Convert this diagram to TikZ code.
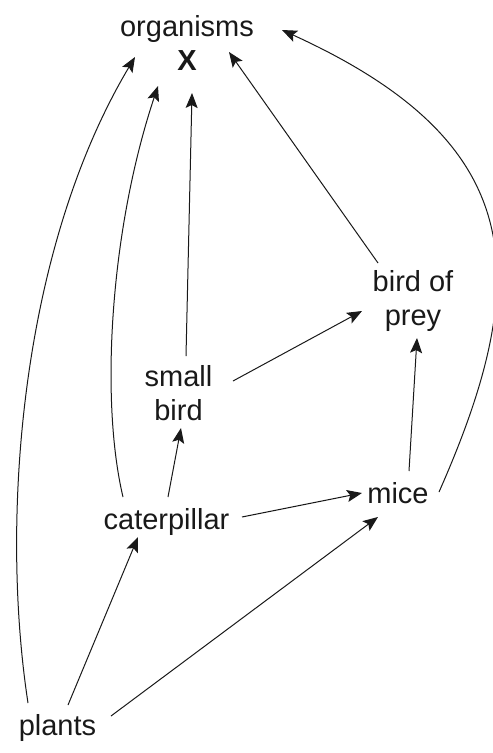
\documentclass[tikz,border=0pt]{standalone}
\usepackage{fontspec}
\setmainfont{Liberation Sans}
\usetikzlibrary{arrows.meta,calc}
\begin{document}
\begin{tikzpicture}[x=1pt,y=-1pt,
  lbl/.style={anchor=base,align=center,inner sep=0pt,font=\fontsize{29}{34}\selectfont,text=black!90},
  arr/.style={-{Stealth[length=15pt,width=12pt,inset=3pt]},line width=1pt,black!90}]
\useasboundingbox (0,0) rectangle (493,753);
\node[lbl] (org) at (187,70) {organisms\\\textbf{X}};
\node[lbl] (bop) at (413,325) {bird of\\prey};
\node[lbl] (sb) at (178.5,420) {small\\bird};
\node[lbl] (cat) at (166.5,529) {caterpillar};
\node[lbl] (mice) at (398,503) {mice};
\node[lbl] (plants) at (57.5,735) {plants};
% connectors
\draw[arr] ($(plants.base)+(-29.5,-32)$) .. controls (0,520) and (20,250) .. ($(org.base)+(-52,-13)$);
\draw[arr] ($(plants.base)+(10.5,-30)$) -- ($(cat.base)+(-28.5,8)$);
\draw[arr] ($(plants.base)+(53.5,-19)$) -- ($(mice.base)+(-20,14)$);
\draw[arr] ($(cat.base)+(-43.5,-32)$) .. controls (100,400) and (110,230) .. ($(org.base)+(-29,16)$);
\draw[arr] ($(cat.base)+(1.5,-32)$) -- ($(sb.base)+(2.5,8)$);
\draw[arr] ($(cat.base)+(75.5,-12)$) -- ($(mice.base)+(-36,-10)$);
\draw[arr] ($(sb.base)+(7.5,-64)$) -- ($(org.base)+(5,23)$);
\draw[arr] ($(sb.base)+(54.5,-39)$) -- ($(bop.base)+(-51,-14)$);
\draw[arr] ($(bop.base)+(-35,-62)$) -- ($(org.base)+(42,-18)$);
\draw[arr] ($(mice.base)+(11,-32)$) -- ($(bop.base)+(4,13)$);
\draw[arr] ($(mice.base)+(41,-11)$) .. controls (535,275) and (528,142) .. ($(org.base)+(95,-40)$);
\end{tikzpicture}
\end{document}
